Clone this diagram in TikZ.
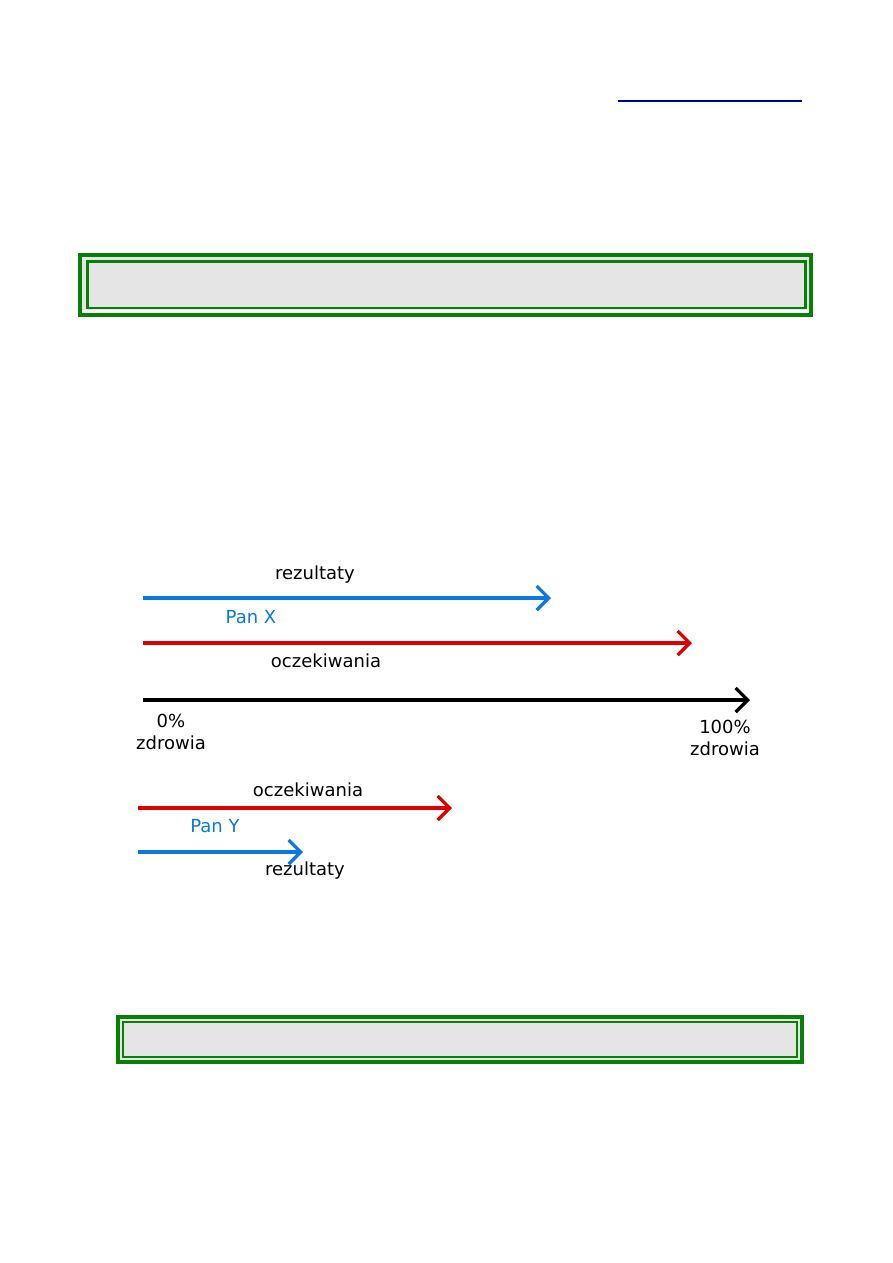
\documentclass[tikz,border=0pt]{standalone}
\usepackage{fontspec}
\setmainfont{DejaVu Sans}
\usepackage{tikz}
\usetikzlibrary{arrows.meta}
\definecolor{frame}{HTML}{088008}
\definecolor{panel}{HTML}{E5E5E5}
\definecolor{result}{HTML}{0A78DC}
\definecolor{expect}{HTML}{DC0000}
\definecolor{signline}{HTML}{000088}

\begin{document}
\begin{tikzpicture}[x=0.6667pt, y=-0.6667pt, >={Straight Barb[length=8pt,width=16pt]},
  axis/.style={->, line width=2.2pt},
  lbl/.style={font=\fontsize{12}{14.5}\selectfont, inner sep=0pt, align=center}]
\useasboundingbox (0,0) rectangle (893,1263);
\draw[signline, line width=0.8pt] (618,101) -- (802,101);
% upper panel
\draw[frame, line width=3.2pt, fill=white] (80,255) rectangle (811,315);
\fill[panel] (82,257) rectangle (809,310);
\draw[frame, line width=1.8pt] (87.5,261.5) rectangle (805.5,308);
% lower panel
\draw[frame, line width=3.2pt, fill=panel] (118,1017) rectangle (802,1062);
\draw[frame, line width=1.2pt] (123,1022) rectangle (797,1057);
% Pan X
\coordinate (xres0) at (143,598);
\coordinate (xres1) at (551,598);
\coordinate (xexp0) at (143,643);
\coordinate (xexp1) at (692,643);
\draw[axis, result] (xres0) -- (xres1);
\draw[axis, expect] (xexp0) -- (xexp1);
\node[lbl] (xreslbl) at (315,575) {rezultaty};
\node[lbl, result] (xname) at (251,617) {Pan X};
\node[lbl] (xexplbl) at (326,661) {oczekiwania};
% scale of health
\coordinate (zero) at (143,700);
\coordinate (full) at (750,700);
\draw[axis, black] (zero) -- (full);
\node[lbl] (zerolbl) at (171,732) {0\%\\zdrowia};
\node[lbl] (fulllbl) at (725,738) {100\%\\zdrowia};
% Pan Y
\coordinate (yexp0) at (138,808);
\coordinate (yexp1) at (452,808);
\coordinate (yres0) at (138,852);
\coordinate (yres1) at (303,852);
\draw[axis, expect] (yexp0) -- (yexp1);
\draw[axis, result] (yres0) -- (yres1);
\node[lbl] (yexplbl) at (308,790) {oczekiwania};
\node[lbl, result] (yname) at (215,826) {Pan Y};
\node[lbl] (yreslbl) at (305,871) {rezultaty};
\end{tikzpicture}
\end{document}
